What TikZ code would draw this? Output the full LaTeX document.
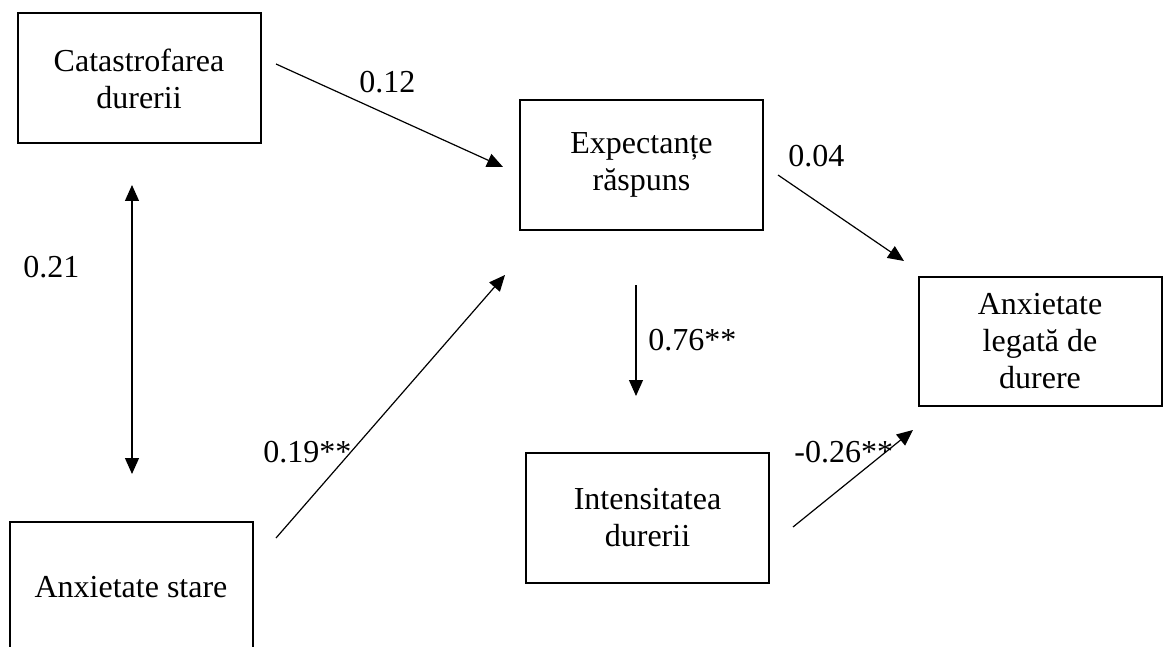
\documentclass[tikz,border=0pt]{standalone}
\usepackage{fontspec}
\setmainfont{Liberation Serif}
\usetikzlibrary{arrows.meta}
\begin{document}
\begin{tikzpicture}[x=0.5pt,y=-0.5pt,
  box/.style={draw, line width=1pt, minimum width=121.5pt, minimum height=65pt,
    align=center, inner sep=0pt, font=\fontsize{16}{18.5}\selectfont},
  lbl/.style={anchor=base west, inner sep=0pt, font=\fontsize{16}{18}\selectfont},
  conn/.style={line width=0.6pt, -{Triangle[length=8pt,width=7pt]}},
  dconn/.style={line width=0.6pt, {Triangle[length=8pt,width=7pt]}-{Triangle[length=8pt,width=7pt]}}]
\useasboundingbox (0,0) rectangle (1168,647);
\clip (0,0) rectangle (1168,647);
% boxes
\node[box] (cat) at (139,78.5) {Catastrofarea\\durerii};
\node[box] (exp) at (641.5,165) {Expectanțe\\răspuns};
\node[box, minimum height=64.5pt] (anx) at (1040,341.5) {Anxietate\\legată de\\durere};
\node[box] (int) at (647.5,518) {Intensitatea\\durerii};
\node[box] (sta) at (131,587) {Anxietate stare};
% connector end points
\coordinate (c1s) at (276,64);   \coordinate (c1e) at (503,167);
\coordinate (c2s) at (778,175);  \coordinate (c2e) at (904,261);
\coordinate (c3s) at (276,538);  \coordinate (c3e) at (505,275);
\coordinate (c4s) at (636,285);  \coordinate (c4e) at (636,396);
\coordinate (c5s) at (793,527);  \coordinate (c5e) at (913,430);
\coordinate (c6s) at (132,185);  \coordinate (c6e) at (132,474);
% connectors
\draw[conn] (c1s) -- (c1e);
\draw[conn] (c2s) -- (c2e);
\draw[conn] (c3s) -- (c3e);
\draw[conn] (c4s) -- (c4e);
\draw[conn] (c5s) -- (c5e);
\draw[dconn] (c6s) -- (c6e);
% labels
\node[lbl] (l1) at (359,93) {0.12};
\node[lbl] (l2) at (788,167) {0.04};
\node[lbl] (l3) at (263,462) {0.19**};
\node[lbl] (l4) at (648,350) {0.76**};
\node[lbl] (l5) at (794,462) {-0.26**};
\node[lbl] (l6) at (23,278) {0.21};
\end{tikzpicture}
\end{document}
